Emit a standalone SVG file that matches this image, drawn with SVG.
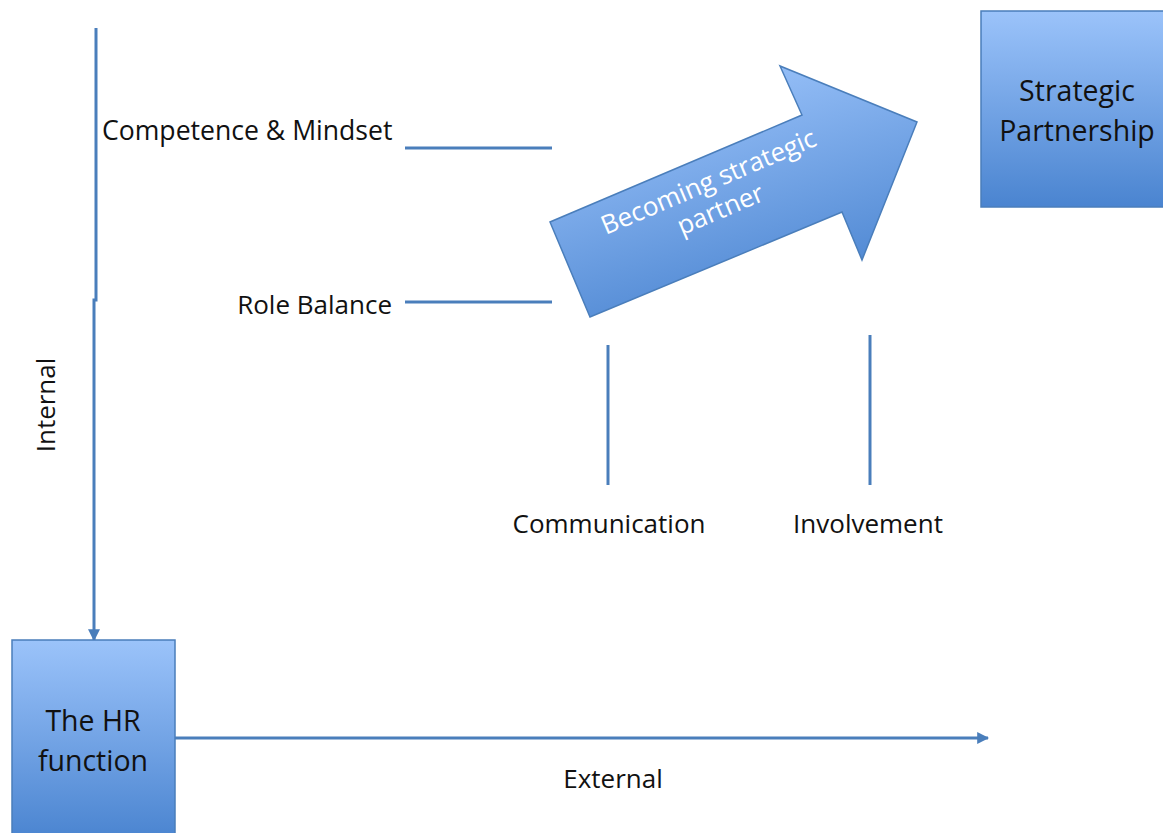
<svg xmlns="http://www.w3.org/2000/svg" width="1163" height="833" viewBox="0 0 1163 833">
<defs>
<linearGradient id="g" x1="0" y1="0" x2="0" y2="1">
<stop offset="0" stop-color="#9bc3fa"/>
<stop offset="1" stop-color="#4a84d0"/>
</linearGradient>
<linearGradient id="ga" x1="0" y1="0" x2="0" y2="1" gradientTransform="rotate(-23 0.5 0.5)">
<stop offset="0" stop-color="#9bc3fa"/>
<stop offset="1" stop-color="#4a84d0"/>
</linearGradient>
<marker id="ah" viewBox="0 0 10 10" refX="9" refY="5" markerWidth="4" markerHeight="4" orient="auto" markerUnits="strokeWidth">
<path d="M0,0 L10,5 L0,10 z" fill="#4a7ebb"/>
</marker>
<style>
.t{font-family:"Open Sans","Liberation Sans",sans-serif;font-size:26px;fill:#111}
.b{font-family:"Open Sans","Liberation Sans",sans-serif;font-size:28.5px;fill:#111;text-anchor:middle}
.ln{stroke:#4a7ebb;stroke-width:3;fill:none}
.box{fill:url(#g);stroke:#4a7ebb;stroke-width:1.5}
</style>
</defs>
<rect width="1163" height="833" fill="#fff"/>
<g id="connectors">
<path class="ln" d="M96,28 L96,300 L94,300 L94,640" marker-end="url(#ah)"/>
<path class="ln" d="M175,738 L988,738" marker-end="url(#ah)"/>
<path class="ln" d="M405,148 L552,148"/>
<path class="ln" d="M405,302 L552,302"/>
<path class="ln" d="M608,345 L608,485"/>
<path class="ln" d="M870,335 L870,485"/>
</g>
<g id="strategic-partnership">
<rect class="box" x="981" y="11" width="190" height="196"/>
<text class="b" x="1077" y="101">Strategic</text>
<text class="b" x="1077" y="141">Partnership</text>
</g>
<g id="hr-function">
<rect class="box" x="12" y="640" width="163" height="200"/>
<text class="b" x="93" y="731">The HR</text>
<text class="b" x="93" y="771">function</text>
</g>
<g id="becoming-arrow">
<path d="M590,317 L550,222 L802,115 L780,66 L917,122 L862,260 L842,212 Z" fill="url(#ga)" stroke="#4a7ebb" stroke-width="1.5"/>
<g transform="translate(712,190) rotate(-23)" font-family="'Open Sans','Liberation Sans',sans-serif" font-size="26" fill="#fff" text-anchor="middle">
<text x="0" y="0">Becoming strategic</text>
<text x="0" y="30">partner</text>
</g>
</g>
<g id="labels">
<text class="t" x="102" y="140" style="font-size:26.6px">Competence &amp; Mindset</text>
<text class="t" x="392" y="314" text-anchor="end">Role Balance</text>
<text class="t" x="609" y="533" text-anchor="middle">Communication</text>
<text class="t" x="868" y="533" text-anchor="middle">Involvement</text>
<text class="t" x="613" y="788" text-anchor="middle">External</text>
<text class="t" transform="translate(55,405) rotate(-90)" text-anchor="middle">Internal</text>
</g>
</svg>
